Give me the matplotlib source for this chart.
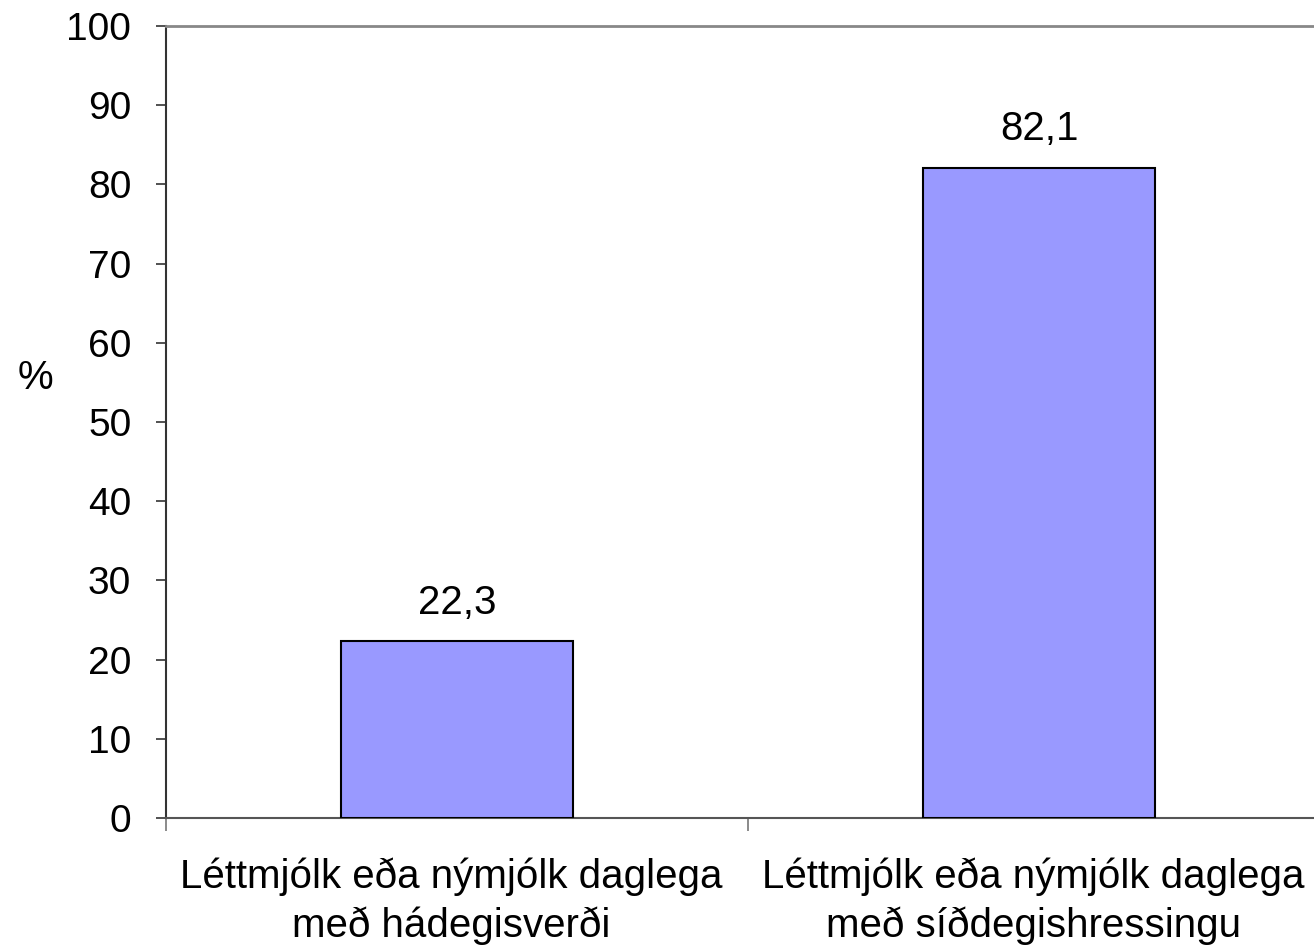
import matplotlib
matplotlib.use('Agg')
import matplotlib.pyplot as plt
import numpy as np

categories = ['Léttmjólk eða nýmjólk daglega\nmeð hádegisverði',
              'Léttmjólk eða nýmjólk daglega\nmeð síðdegishressingu']
values = [22.3, 82.1]
value_labels = ['22,3', '82,1']
yticks = [0, 10, 20, 30, 40, 50, 60, 70, 80, 90, 100]

plt.rcParams['font.family'] = ['Liberation Sans', 'DejaVu Sans']

W, H = 1314, 948
fig = plt.figure(figsize=(W / 100, H / 100), dpi=100)
left, right = 166 / W, 1330 / W
bottom, top = (H - 818) / H, (H - 26) / H
ax = fig.add_axes([left, bottom, right - left, top - bottom])

x = np.arange(len(categories))
ax.bar(x, values, width=0.4, color='#9999FF', edgecolor='black', linewidth=1.5, zorder=3)

for xi, v, lab in zip(x, values, value_labels):
    ax.annotate(lab, (xi, v), xytext=(0, 14), textcoords='offset points',
                ha='center', va='bottom', fontsize=29)

ax.set_xlim(-0.5, 1.5)
ax.set_ylim(0, 100)
ax.set_yticks(yticks)
ax.set_yticklabels([str(t) for t in yticks], fontsize=28)
ax.tick_params(axis='y', direction='out', length=7, width=1.2, color='#333333', pad=18)

ax.set_xticks([-0.5, 0.5, 1.5])
ax.set_xticklabels([])
ax.tick_params(axis='x', direction='out', length=9, width=1.2, color='#777777')
for xi, cat in zip(x, categories):
    ax.text(xi - 0.01, -5.0, cat, ha='center', va='top', fontsize=29, linespacing=1.32,
            transform=ax.transData)

ax.spines['left'].set_color('#333333')
ax.spines['left'].set_linewidth(1.5)
ax.spines['bottom'].set_color('#555555')
ax.spines['bottom'].set_linewidth(1.5)
ax.spines['top'].set_color('#888888')
ax.spines['top'].set_linewidth(2)
ax.spines['right'].set_color('#888888')

fig.text(35 / W, 1 - 378 / H, '%', fontsize=29, ha='center', va='center')

fig.savefig('out.png', dpi=100)
